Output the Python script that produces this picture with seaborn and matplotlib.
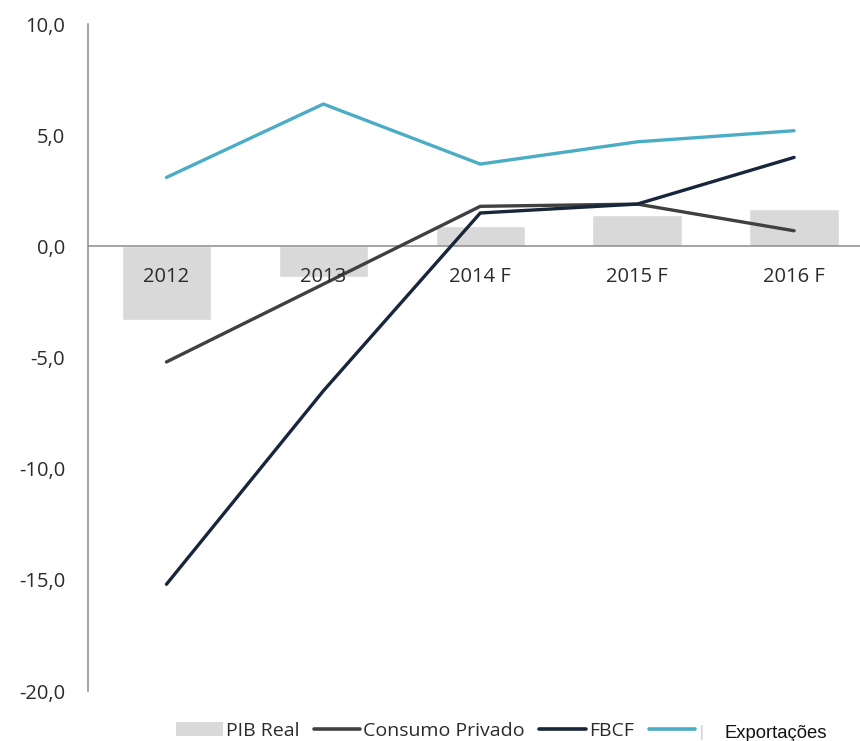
import numpy as np
import pandas as pd
import matplotlib
matplotlib.use("Agg")
import matplotlib.pyplot as plt
from matplotlib.patches import Patch
from matplotlib.lines import Line2D
import seaborn as sns

# Annual growth rates (%), with forecasts marked "F"
categories = ["2012", "2013", "2014 F", "2015 F", "2016 F"]
pib_real = [-3.3, -1.4, 0.9, 1.4, 1.7]
consumo_privado = [-5.2, -1.7, 1.8, 1.9, 0.7]
fbcf = [-15.2, -6.5, 1.5, 1.9, 4.0]
exportacoes = [3.1, 6.4, 3.7, 4.7, 5.2]
y_ticks = [-20, -15, -10, -5, 0, 5, 10]

sns.set_theme(style="white")
plt.rcParams["font.family"] = ["Open Sans", "DejaVu Sans"]

c_bar = "#D9D9D9"
c_cons = "#404040"
c_fbcf = "#17263A"
c_exp = "#4BACC6"
c_text = "#2B2B2B"
fs = 14.5

df = pd.DataFrame({
    "ano": categories,
    "pos": np.arange(len(categories)),
    "PIB Real": pib_real,
    "Consumo Privado": consumo_privado,
    "FBCF": fbcf,
    "Exportações": exportacoes,
})

fig = plt.figure(figsize=(8.6, 7.41), dpi=100)
ax = fig.add_axes([88 / 860, 50 / 741, 772 / 860, 667 / 741])

sns.barplot(data=df, x="ano", y="PIB Real", color=c_bar, width=0.57,
            saturation=1, ax=ax, zorder=1)
ax.axhline(0, color="#8C8C8C", lw=1.1, zorder=2)

for col, color in [("Consumo Privado", c_cons), ("FBCF", c_fbcf),
                   ("Exportações", c_exp)]:
    sns.lineplot(data=df, x="pos", y=col, color=color, lw=2.4, ax=ax,
                 zorder=3, solid_capstyle="round", legend=False)

ax.set_xlim(-0.5, 4.42)
ax.set_ylim(-20, 10)
ax.set_yticks(y_ticks)
ax.set_yticklabels([f"{v:.1f}".replace(".", ",") for v in y_ticks],
                   fontsize=fs, color=c_text)
ax.tick_params(axis="y", length=0, pad=16.5)
ax.set_xticks([])
ax.set_xlabel("")
ax.set_ylabel("")

for s in ["top", "right", "bottom"]:
    ax.spines[s].set_visible(False)
ax.spines["left"].set_color("#8C8C8C")
ax.spines["left"].set_linewidth(1.1)

# Category labels sit just under the zero line
for i, lab in enumerate(categories):
    ax.annotate(lab, xy=(i, 0), xytext=(0, -22), textcoords="offset points",
                ha="center", va="center", fontsize=fs, color=c_text,
                zorder=4)

handles = [
    Patch(facecolor=c_bar, edgecolor="none"),
    Line2D([], [], color=c_cons, lw=2.6),
    Line2D([], [], color=c_fbcf, lw=2.6),
    Line2D([], [], color=c_exp, lw=2.6),
]
labels = ["PIB Real", "Consumo Privado", "FBCF", "|"]
leg = fig.legend(handles, labels, loc="center left",
                 bbox_to_anchor=(176 / 860, 1 - 731 / 741), ncol=4,
                 frameon=False, fontsize=14, handlelength=2.4,
                 handletextpad=0.15, columnspacing=0.75, borderpad=0,
                 borderaxespad=0)
for t in leg.get_texts():
    t.set_color(c_text)
leg.get_texts()[3].set_color("#BBBBBB")
leg.get_texts()[3].set_fontsize(10)

fig.text(724 / 860, 1 - 733 / 741, "Exportações", fontsize=13.3,
         family=["Liberation Sans", "DejaVu Sans"], color="#111111",
         ha="left", va="center")

fig.savefig("out.png", dpi=100, facecolor="white")
